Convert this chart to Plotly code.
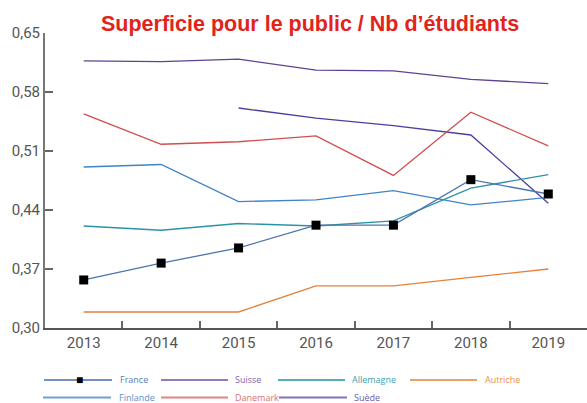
import plotly.graph_objects as go

years = ["2013", "2014", "2015", "2016", "2017", "2018", "2019"]
france = [0.357, 0.377, 0.395, 0.422, 0.422, 0.476, 0.459]
suisse = [0.617, 0.616, 0.619, 0.606, 0.605, 0.595, 0.590]
allemagne = [0.421, 0.416, 0.424, 0.421, 0.427, 0.466, 0.482]
autriche = [0.319, 0.319, 0.319, 0.350, 0.350, 0.360, 0.370]
finlande = [0.491, 0.494, 0.450, 0.452, 0.463, 0.446, 0.455]
danemark = [0.554, 0.518, 0.521, 0.528, 0.481, 0.556, 0.516]
suede = [None, None, 0.561, 0.549, 0.540, 0.529, 0.448]
y_ticks = [0.30, 0.37, 0.44, 0.51, 0.58, 0.65]

series = [
    ("France", france, "#4f74ad", "#5b7db8"),
    ("Suisse", suisse, "#5e4390", "#8067ad"),
    ("Allemagne", allemagne, "#2b93a8", "#3a9fb4"),
    ("Autriche", autriche, "#e5813a", "#e8904c"),
    ("Finlande", finlande, "#4183c7", "#5a8fcb"),
    ("Danemark", danemark, "#d04e50", "#dd6f6f"),
    ("Suède", suede, "#4b3e9c", "#6a5bb0"),
]

fig = go.Figure()
draw_order = ["Autriche", "Suisse", "Suède", "Danemark", "Finlande", "Allemagne", "France"]
lookup = {s[0]: s for s in series}
for name in draw_order:
    n, vals, col, _ = lookup[name]
    if n == "France":
        fig.add_trace(go.Scatter(x=years, y=vals, mode="lines+markers", name=n,
                                 line=dict(color=col, width=1.3),
                                 marker=dict(symbol="square", size=9, color="black"),
                                 showlegend=False))
    else:
        fig.add_trace(go.Scatter(x=years, y=vals, mode="lines", name=n,
                                 line=dict(color=col, width=1.3), showlegend=False))

W, H = 587, 403
L, R, T, B = 45, 0, 33, 75
pw, ph = W - L - R, H - T - B

def px(x):
    return (x - L) / pw

def py(y):
    return (H - B - y) / ph

# manual legend
legend_pos = [
    ("France", 44, 112, 118, 380),
    ("Suisse", 161, 228, 233, 380),
    ("Allemagne", 278, 345, 350, 380),
    ("Autriche", 410, 477, 483, 380),
    ("Finlande", 43, 111, 117, 397.5),
    ("Danemark", 161, 228, 233, 397.5),
    ("Suède", 279, 347, 352, 397.5),
]
shapes = []
annotations = []
for n, x0, x1, tx, yy in legend_pos:
    _, _, col, tcol = lookup[n]
    shapes.append(dict(type="line", xref="paper", yref="paper", x0=px(x0), x1=px(x1),
                       y0=py(yy), y1=py(yy), line=dict(color=tcol, width=2), opacity=0.85))
    annotations.append(dict(text=n, xref="paper", yref="paper", x=px(tx), y=py(yy),
                            xanchor="left", yanchor="middle", showarrow=False,
                            font=dict(size=9, color=tcol, family="Open Sans")))
annotations.append(dict(text="■", xref="paper", yref="paper", x=px(79), y=py(380),
                        xanchor="center", yanchor="middle", showarrow=False,
                        font=dict(size=12, color="black")))

annotations.append(dict(text="<b>Superficie pour le public / Nb d’étudiants</b>",
                        xref="paper", yref="paper", x=px(310), y=py(24),
                        xanchor="center", yanchor="middle", showarrow=False,
                        font=dict(size=21.5, color="#e2231a", family="Liberation Sans")))

fig.update_layout(
    width=W, height=H,
    margin=dict(l=L, r=R, t=T, b=B),
    plot_bgcolor="white", paper_bgcolor="white",
    separators=",.",
    showlegend=False,
    shapes=shapes,
    annotations=annotations,
    font=dict(family="Roboto", color="#555555", size=15),
)
fig.update_xaxes(type="category", range=[-0.5, 6.5], tickson="boundaries",
                 ticks="inside", ticklen=7, tickcolor="#666666", tickwidth=2,
                 showline=True, linecolor="#555555", linewidth=2, showgrid=False,
                 tickfont=dict(size=15, color="#555555"))
fig.update_yaxes(range=[0.30, 0.65], tickvals=y_ticks, tickformat=".2f",
                 ticks="inside", ticklen=8, tickcolor="#666666", tickwidth=2,
                 showline=True, linecolor="#777777", linewidth=2, showgrid=False,
                 zeroline=False, tickfont=dict(size=15, color="#555555"))

fig.write_html("out.html", config={"displayModeBar": False},
               post_script="document.body.style.margin='0';document.body.style.overflow='hidden';")
